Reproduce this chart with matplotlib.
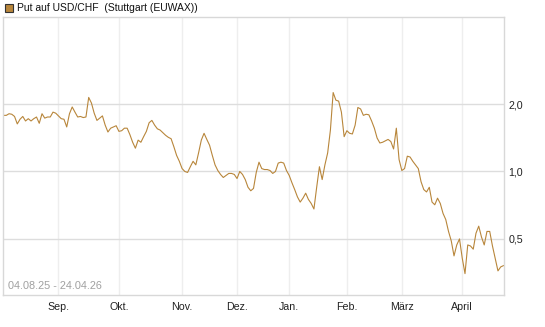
import numpy as np
import pandas as pd
import matplotlib
matplotlib.use("Agg")
import matplotlib.pyplot as plt
from matplotlib.patches import Rectangle

plt.rcParams['font.family'] = ['Liberation Sans', 'DejaVu Sans']

# Handelstage Stuttgart (EUWAX) 04.08.25 - 24.04.26
holidays = ["2025-12-24", "2025-12-25", "2025-12-26", "2025-12-31",
            "2026-01-01", "2026-04-03", "2026-04-06"]
days = pd.bdate_range("2025-08-04", "2026-04-24")
days = days[~days.isin(pd.to_datetime(holidays))]

# Kurse des Puts
prices = [
    1.78, 1.78, 1.81, 1.80, 1.76, 1.63, 1.71, 1.76, 1.68, 1.72,
    1.68, 1.72, 1.75, 1.64, 1.81, 1.73, 1.75, 1.75, 1.84, 1.82,
    1.77, 1.72, 1.71, 1.58, 1.81, 1.94, 1.84, 1.75, 1.76, 1.74,
    1.75, 2.14, 2.02, 1.82, 1.69, 1.73, 1.77, 1.61, 1.50, 1.56,
    1.58, 1.60, 1.51, 1.52, 1.56, 1.56, 1.46, 1.35, 1.27, 1.38,
    1.35, 1.43, 1.51, 1.65, 1.69, 1.61, 1.55, 1.53, 1.49, 1.45,
    1.42, 1.40, 1.29, 1.18, 1.11, 1.03, 1.00, 0.99, 1.05, 1.11,
    1.07, 1.21, 1.38, 1.48, 1.39, 1.31, 1.18, 1.07, 1.01, 0.97,
    0.94, 0.96, 0.98, 0.98, 0.97, 0.93, 1.00, 0.97, 0.92, 0.85,
    0.82, 0.84, 0.99, 1.10, 1.03, 1.02, 1.02, 1.01, 0.98, 1.00,
    1.09, 1.10, 1.09, 1.01, 0.96, 0.89, 0.83, 0.77, 0.73, 0.76,
    0.80, 0.75, 0.72, 0.68, 0.85, 1.05, 0.92, 1.07, 1.21, 1.53,
    2.25, 2.08, 2.06, 1.84, 1.43, 1.52, 1.48, 1.47, 1.61, 1.93,
    1.90, 1.78, 1.80, 1.79, 1.68, 1.56, 1.41, 1.34, 1.35, 1.37,
    1.39, 1.36, 1.26, 1.56, 1.13, 1.01, 1.03, 1.17, 1.16, 1.11,
    1.07, 1.03, 0.90, 0.83, 0.81, 0.85, 0.73, 0.71, 0.76, 0.72,
    0.65, 0.61, 0.54, 0.49, 0.42, 0.47, 0.50, 0.41, 0.35, 0.47,
    0.465, 0.45, 0.53, 0.57, 0.51, 0.47, 0.54, 0.54, 0.465, 0.41,
    0.36, 0.375, 0.38,
]

month_labels = ["Sep.", "Okt.", "Nov.", "Dez.", "Jan.", "Feb.", "März", "April"]
month_starts = ["2025-09", "2025-10", "2025-11", "2025-12",
                "2026-01", "2026-02", "2026-03", "2026-04"]
y_ticks = [0.5, 1.0, 2.0]
y_labels = ["0,5", "1,0", "2,0"]

x = np.arange(len(prices))
month_pos = [int(np.argmax(days.strftime("%Y-%m") == m)) for m in month_starts]

fig = plt.figure(figsize=(5.45, 3.27), dpi=100)
ax = fig.add_axes([3 / 545, 1 - 295 / 327, 501 / 545, 278 / 327])

ax.plot(x, prices, color="#b8863b", lw=0.8)

ax.set_yscale("log")
ax.set_ylim(0.281, 4.89)
ax.set_xlim(-0.2, 182.2)

ax.set_yticks(y_ticks)
ax.set_yticklabels(y_labels)
ax.yaxis.set_minor_locator(plt.NullLocator())
ax.yaxis.tick_right()
ax.set_xticks(month_pos)
ax.set_xticklabels(month_labels)
ax.tick_params(length=0, labelsize=7.7, colors="#222222", pad=5)
ax.tick_params(axis="y", pad=3)

ax.grid(axis="y", color="#dddddd", lw=1)
ax.grid(axis="x", color="#eeeeee", lw=1)
ax.set_axisbelow(True)
for s in ax.spines.values():
    s.set_color("#d8d8d8")
    s.set_linewidth(1)

ax.text(0.01, 0.015, "04.08.25 - 24.04.26", transform=ax.transAxes,
        fontsize=7.8, color="#a0a0a0", ha="left", va="bottom")

# Legende oben links
fig.patches.append(Rectangle((5 / 545, 1 - 12 / 327), 8 / 545, 8 / 327,
                             transform=fig.transFigure, facecolor="#b8863b",
                             edgecolor="#333333", lw=0.8))
fig.text(17 / 545, 1 - 8 / 327, "Put auf USD/CHF  (Stuttgart (EUWAX))",
         fontsize=7.5, color="#111111", va="center", ha="left")

fig.savefig("out.png", dpi=100)
